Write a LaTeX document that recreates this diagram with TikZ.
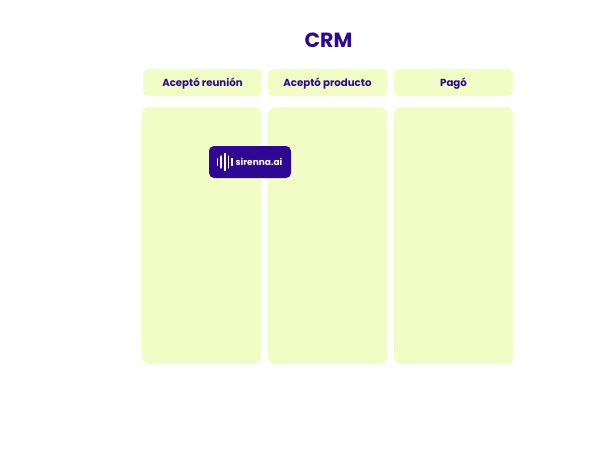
\documentclass[tikz,border=0pt]{standalone}
\usepackage{fontspec}
\setmainfont{Poppins}
\usepackage{xcolor}
\usetikzlibrary{calc}
\definecolor{crmgreen}{HTML}{F2FDC6}
\definecolor{crmpurple}{HTML}{2E0796}

\begin{document}
\begin{tikzpicture}[x=1pt,y=-1pt,outer sep = 0pt, inner sep = 0pt]
\tikzstyle{head}=[fill=crmgreen, rounded corners=6pt, minimum width=119pt,
    minimum height=27pt, text centered, text height=8pt, text depth=0pt,
    text=crmpurple, font=\fontsize{10.2}{11}\selectfont\bfseries]
\tikzstyle{col}=[fill=crmgreen, rounded corners=7pt, minimum width=119pt, minimum height=257pt]
\tikzstyle{bar}=[draw=white, line width=1.1pt, line cap=round]
    \useasboundingbox (0,0) rectangle (604,468);
    \node (title) [text=crmpurple, font=\fontsize{20.5}{22}\selectfont\bfseries] at (328.5,40) {CRM};
    % headers
    \node (h1) [head,anchor=north west] at (143,69) {Acept\'o reuni\'on};
    \node (h2) [head,anchor=west] at ($(h1.east)+(6,0)$) {Acept\'o producto};
    \node (h3) [head,anchor=west] at ($(h2.east)+(7,0)$) {Pag\'o};
    % columns
    \node (c1) [col,anchor=north west] at (142,107) {};
    \node (c2) [col,anchor=west] at ($(c1.east)+(7,0)$) {};
    \node (c3) [col,anchor=west] at ($(c2.east)+(7,0)$) {};
    % logo
    \node (logo) [fill=crmpurple, rounded corners=5pt, minimum width=82pt, minimum height=32pt,
        anchor=north west] at (209,146) {};
    \node (logotext) [text=white, anchor=west, font=\fontsize{9}{10}\selectfont\bfseries]
        at ($(logo.west)+(26.7,0)$) {sirenna.ai};
    \foreach \x/\h in {8.5/3.5, 12/6, 16/8.5, 19.5/6, 23/3.5}
        \draw[bar] ($(logo.west)+(\x,-\h)$) -- ($(logo.west)+(\x,\h)$);
\end{tikzpicture}
\end{document}
